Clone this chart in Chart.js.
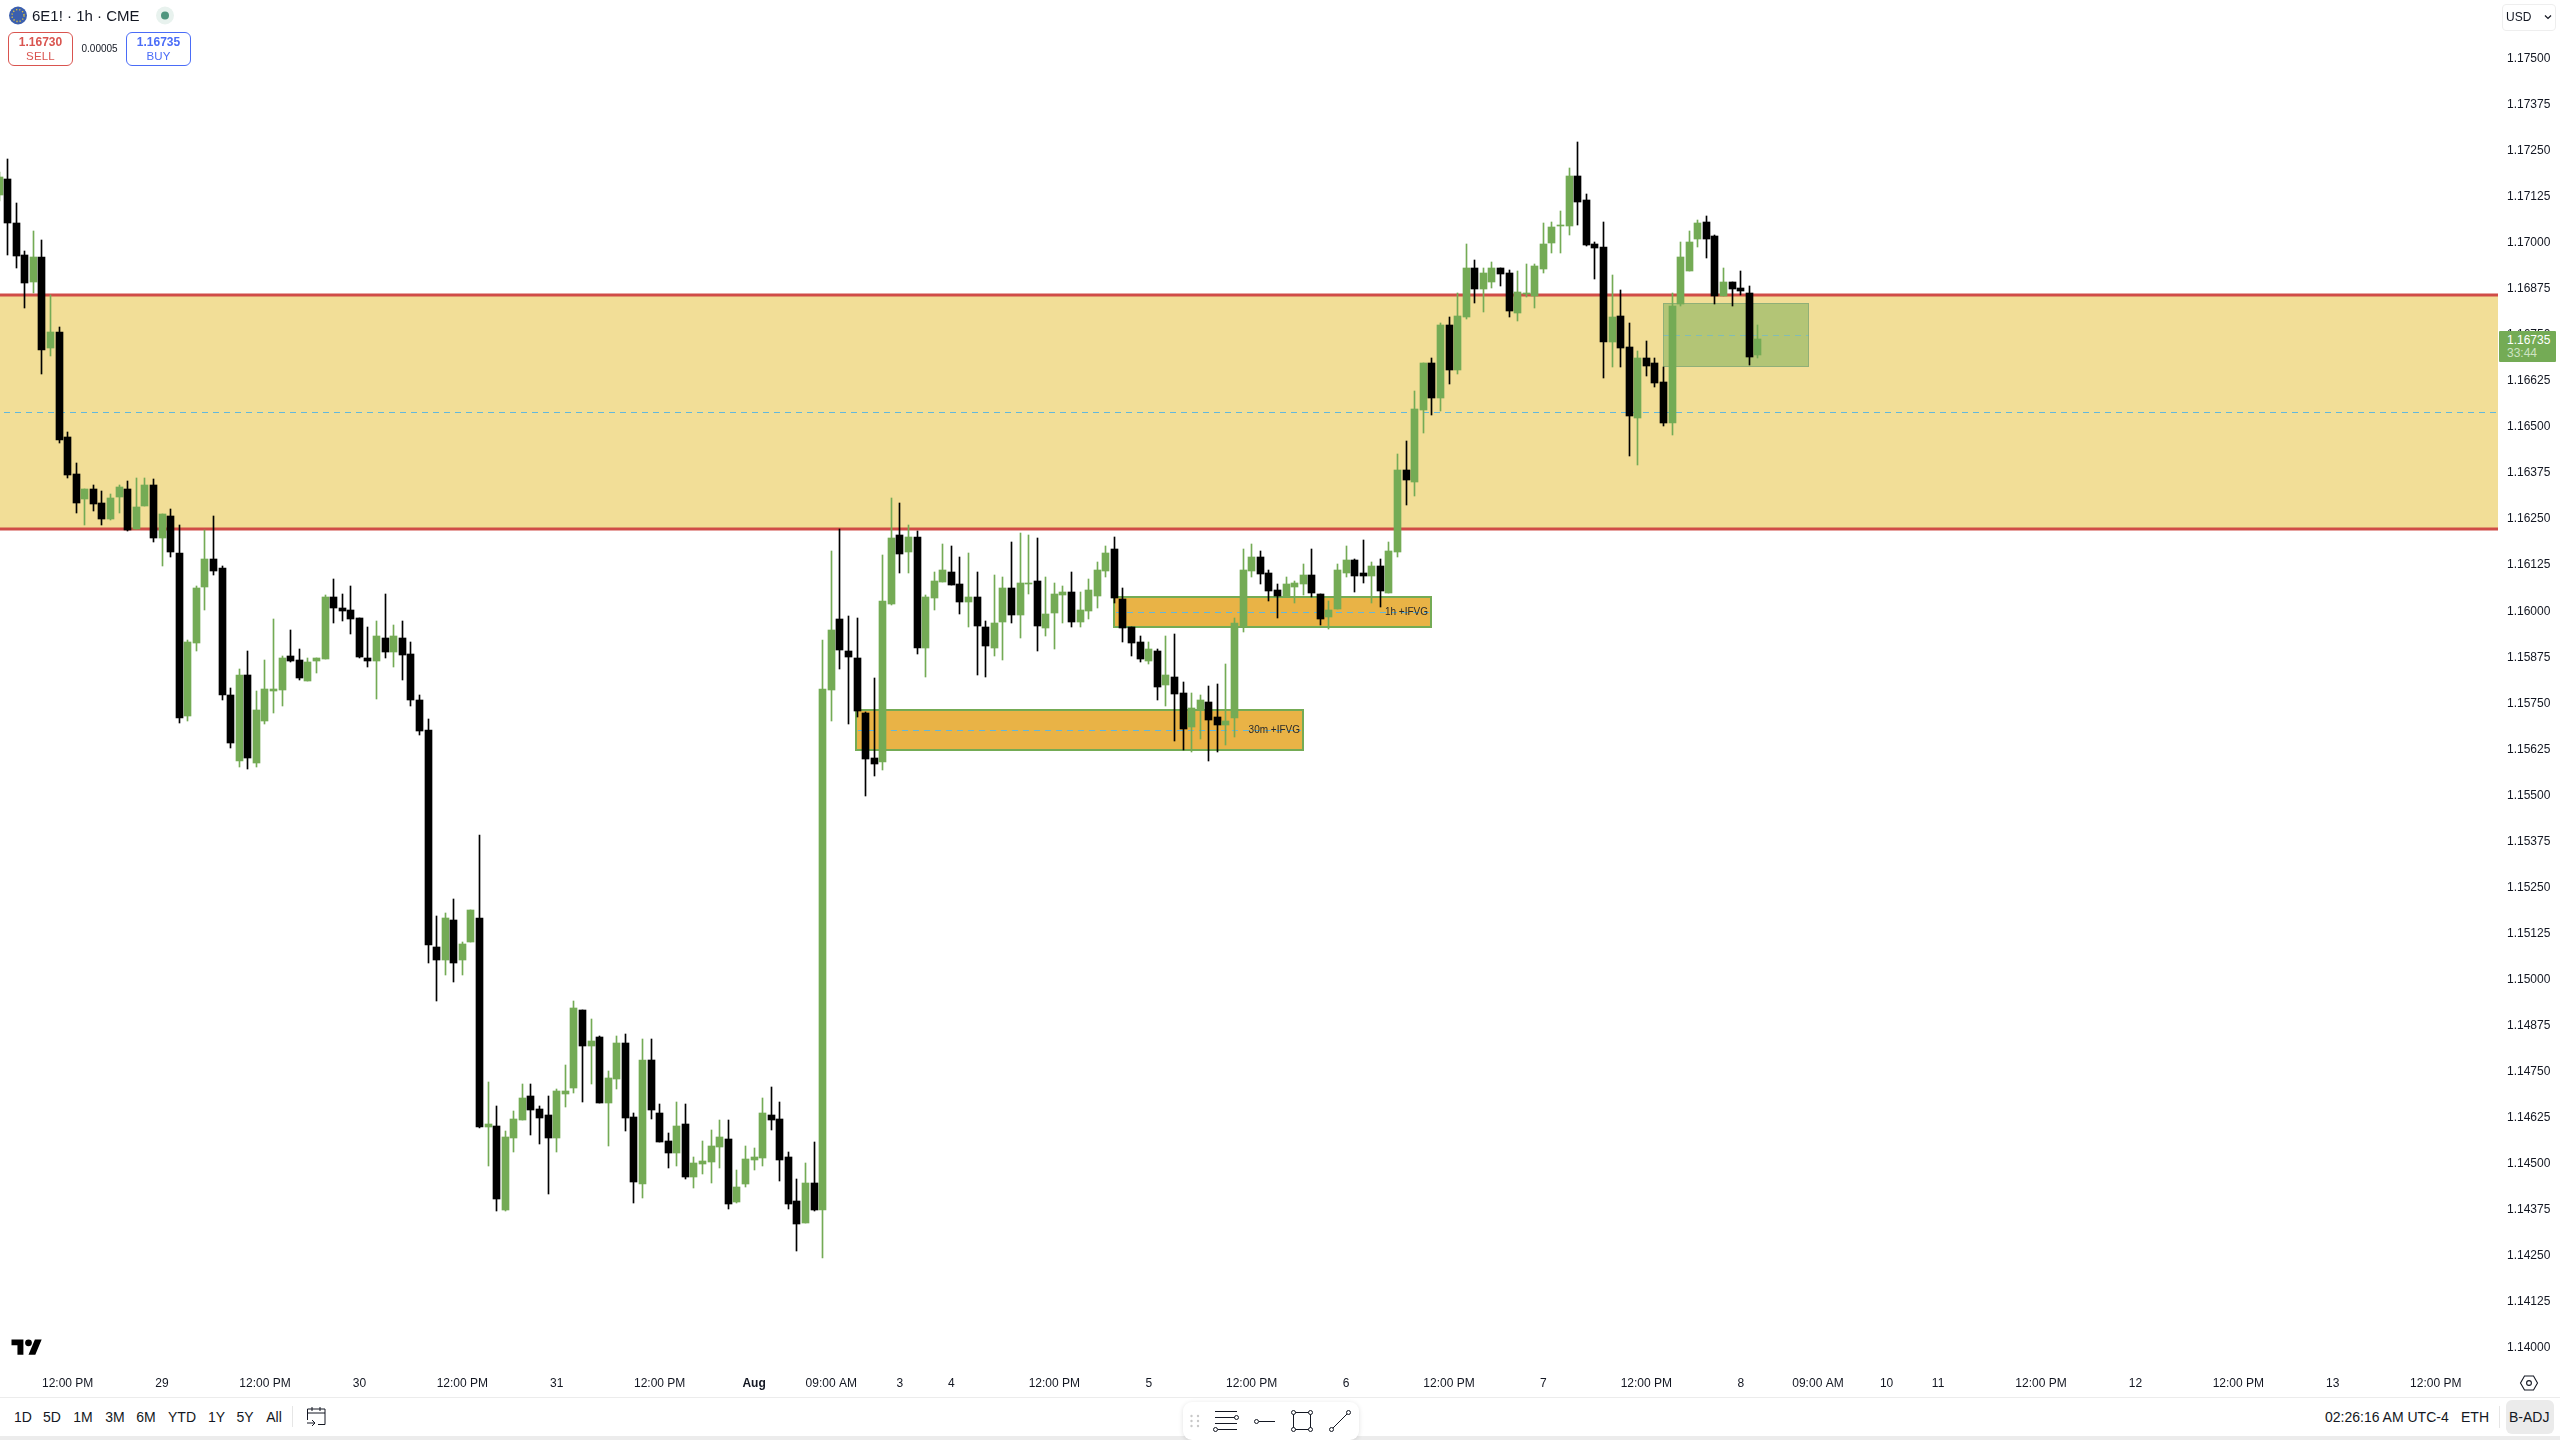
<!DOCTYPE html>
<html>
<head>
<meta charset="utf-8">
<title>6E1! 1h</title>
<script src="https://cdn.jsdelivr.net/npm/chart.js@4"></script>
<style>
  html, body { margin: 0; padding: 0; background: #fff; }
  body { width: 2560px; height: 1440px; position: relative; overflow: hidden; font-family: "Liberation Sans", sans-serif; color: #131722; }
  #chartBox { position: absolute; left: 0; top: 0; width: 2560px; height: 1397px; }
  .abs { position: absolute; white-space: nowrap; line-height: 1; }
  .quote { position: absolute; top: 32px; width: 63px; height: 32px; border: 1px solid; border-radius: 6px; background: #fff; text-align: center; font-size: 12px; }
  .quote b { display: block; margin-top: 3px; line-height: 13px; }
  .quote span { display: block; font-size: 11.5px; line-height: 15px; letter-spacing: .2px; }
  .range { top: 1410px; font-size: 14px; transform: translateX(-50%); }
  #rightLine { position: absolute; left: 0; top: 1397px; width: 2560px; height: 1px; background: #ececec; }
  #strip { position: absolute; left: 0; top: 1436px; width: 2560px; height: 4px; background: #ececec; }
  #drawBar { position: absolute; left: 1183px; top: 1402px; width: 176px; height: 38px; background: #fff; border-radius: 9px; box-shadow: 0 1px 5px rgba(0,0,0,.12); }
  #overlay { position: absolute; left: 0; top: 0; }
</style>
</head>
<body>
<div id="chartBox"><canvas id="chart" width="2560" height="1397"></canvas></div>

<div id="rightLine"></div>
<div id="strip"></div>
<div id="drawBar"></div>

<!-- header -->
<div class="abs" style="left:32px;top:8px;font-size:15px">6E1! · 1h · CME</div>
<div class="quote" style="left:8px;border-color:#d9544f;color:#d9544f"><b>1.16730</b><span>SELL</span></div>
<div class="abs" style="left:81.5px;top:43.5px;font-size:10px">0.00005</div>
<div class="quote" style="left:126px;border-color:#4a6cf7;color:#4a6cf7"><b>1.16735</b><span>BUY</span></div>

<!-- price scale extras -->
<div class="abs" style="left:2502px;top:4px;width:52px;height:25px;border:1px solid #eee;border-radius:4px"></div>
<div class="abs" style="left:2506px;top:11px;font-size:12px">USD</div>
<div class="abs" style="left:2499px;top:331px;width:57px;height:31px;background:#74ab55;border-radius:1px"></div>
<div class="abs" style="left:2507px;top:334px;font-size:12px;color:#fff">1.16735</div>
<div class="abs" style="left:2507px;top:347px;font-size:12px;color:#cfe3c3">33:44</div>

<!-- bottom bar -->
<div class="abs range" style="left:23px">1D</div>
<div class="abs range" style="left:52px">5D</div>
<div class="abs range" style="left:83px">1M</div>
<div class="abs range" style="left:115px">3M</div>
<div class="abs range" style="left:146px">6M</div>
<div class="abs range" style="left:182px">YTD</div>
<div class="abs range" style="left:216.5px">1Y</div>
<div class="abs range" style="left:245px">5Y</div>
<div class="abs range" style="left:274px">All</div>
<div class="abs" style="left:2325px;top:1410px;font-size:14px">02:26:16 AM UTC-4</div>
<div class="abs" style="left:2461px;top:1410px;font-size:14px">ETH</div>
<div class="abs" style="left:2499px;top:1406px;width:1px;height:22px;background:#e6e6e6"></div>
<div class="abs" style="left:2506px;top:1400px;width:48px;height:34px;background:#ebebeb;border-radius:6px"></div>
<div class="abs" style="left:2509px;top:1410px;font-size:14px">B-ADJ</div>

<!-- icons -->
<svg id="overlay" width="2560" height="1440" fill="none" stroke="#131722" stroke-width="1">
  <circle cx="18" cy="15.5" r="9" fill="#3b5fae" stroke="none"/>
  <circle cx="18" cy="15.5" r="6" stroke="#e8c83a" stroke-width="1.4" stroke-dasharray="1.2 2"/>
  <circle cx="165" cy="15.5" r="9" fill="#e8f2ee" stroke="none"/>
  <circle cx="165" cy="15.5" r="4" fill="#50967f" stroke="none"/>
  <path d="M2545 15.500l3 3 3-3" stroke-width="1.2"/>
  <g transform="translate(11.5 1336) scale(.85)" fill="#000" stroke="none">
    <path d="M14 22H7V11H0V4h14v18zM28 22h-8l7.5-18h8L28 22z"/><circle cx="20" cy="8" r="4"/>
  </g>
  <path d="M2520.5 1383l4-7h9l4 7-4 7h-9z" stroke-width="1.1"/><circle cx="2529" cy="1383" r="2.4" stroke-width="1.1"/>
  <path d="M292.5 1406v21" stroke="#e6e6e6"/>
  <path d="M307.5 1420v-11h17.500v15.500h-7M307 1413h18M312 1407v4M320 1407v4M307 1423h8M312 1420l3 3-3 3"/>
  <g fill="#c8c8c8" stroke="none">
    <circle cx="1191.500" cy="1416" r="1.200"/><circle cx="1198" cy="1416" r="1.200"/>
    <circle cx="1191.500" cy="1421" r="1.200"/><circle cx="1198" cy="1421" r="1.200"/>
    <circle cx="1191.500" cy="1426" r="1.200"/><circle cx="1198" cy="1426" r="1.200"/>
  </g>
  <path d="M1215 1411.500h22M1215 1417.500h20M1215 1423.500h22M1218 1429.500h19"/>
  <circle cx="1236.500" cy="1417.500" r="2" fill="#fff"/><circle cx="1215.500" cy="1429.500" r="2" fill="#fff"/>
  <path d="M1259 1421.500h16"/><circle cx="1256.500" cy="1421.500" r="2" fill="#fff"/>
  <path d="M1293.500 1412.500h17v17h-17z"/>
  <circle cx="1293.500" cy="1412.500" r="2" fill="#fff"/><circle cx="1310.500" cy="1412.500" r="2" fill="#fff"/>
  <circle cx="1293.500" cy="1429.500" r="2" fill="#fff"/><circle cx="1310.500" cy="1429.500" r="2" fill="#fff"/>
  <path d="M1331.500 1429.500l17-17"/><circle cx="1331.500" cy="1429.500" r="2" fill="#fff"/><circle cx="1348.500" cy="1412.500" r="2" fill="#fff"/>
</svg>

<script>
// bar numbers run from firstBar, one bar per hour
const firstBar = -1;

const opens = [1.17127,
1.17171,1.17051,1.16964,1.16891,1.16959,1.16712,1.16755,1.16470,1.16370,1.16302,
1.16329,1.16291,1.16248,1.16307,1.16329,1.16221,1.16283,1.16340,1.16196,1.16256,
1.16155,1.15713,1.15912,1.16063,1.16140,1.16115,1.15770,1.15590,1.15825,1.15585,
1.15700,1.15780,1.15783,1.15877,1.15866,1.15809,1.15862,1.15868,1.16037,1.16007,
1.16001,1.15980,1.15871,1.15862,1.15925,1.15887,1.15925,1.15881,1.15757,1.15675,
1.15086,1.15049,1.15160,1.15049,1.15099,1.15165,1.14597,1.14600,1.14372,1.14567,
1.14616,1.14681,1.14646,1.14630,1.14567,1.14687,1.14703,1.14915,1.14817,1.14842,
1.14662,1.14727,1.14825,1.14624,1.14442,1.14779,1.14635,1.14559,1.14527,1.14605,
1.14461,1.14497,1.14502,1.14543,1.14565,1.14394,1.14442,1.14508,1.14513,1.14630,
1.14619,1.14516,1.14396,1.14337,1.14445,1.14372,1.15783,1.15977,1.15889,1.15870,
1.15721,1.15599,1.15588,1.16017,1.16204,1.16158,1.16199,1.15897,1.16033,1.16077,
1.16104,1.16071,1.16022,1.16036,1.15954,1.15897,1.15968,1.16060,1.15987,1.16071,
1.16079,1.15952,1.15992,1.16041,1.16049,1.15968,1.15998,1.16039,1.16106,1.16166,
1.16030,1.15954,1.15914,1.15862,1.15889,1.15797,1.15819,1.15775,1.15683,1.15729,
1.15751,1.15710,1.15688,1.15707,1.15954,1.16106,1.16144,1.16101,1.16055,1.16037,
1.16063,1.16071,1.16096,1.16044,1.15981,1.16003,1.16101,1.16136,1.16101,1.16093,
1.16120,1.16047,1.16158,1.16381,1.16348,1.16544,1.16671,1.16576,1.16774,1.16652,
1.16796,1.16929,1.16872,1.16891,1.16929,1.16915,1.16807,1.16858,1.16853,1.16926,
1.16997,1.17043,1.17043,1.17179,1.17114,1.16994,1.16986,1.16728,1.16799,1.16715,
1.16522,1.16685,1.16671,1.16620,1.16508,1.16831,1.16921,1.17008,1.17054,1.17016,
1.16853,1.16891,1.16875,1.16861,1.16693];

const closes = [1.17176,
1.17051,1.16962,1.16888,1.16959,1.16707,1.16755,1.16462,1.16367,1.16291,1.16329,
1.16288,1.16248,1.16305,1.16335,1.16218,1.16280,1.16340,1.16196,1.16261,1.16159,
1.15706,1.15914,1.16061,1.16140,1.16107,1.15769,1.15640,1.15825,1.15600,1.15730,
1.15787,1.15787,1.15870,1.15862,1.15816,1.15860,1.15870,1.16037,1.16005,1.15999,
1.15976,1.15873,1.15862,1.15930,1.15887,1.15930,1.15879,1.15757,1.15673,1.15090,
1.15049,1.15165,1.15042,1.15095,1.15186,1.14597,1.14605,1.14402,1.14570,1.14619,
1.14676,1.14643,1.14622,1.14567,1.14695,1.14695,1.14920,1.14817,1.14831,1.14662,
1.14730,1.14825,1.14622,1.14448,1.14779,1.14643,1.14556,1.14527,1.14600,1.14461,
1.14499,1.14505,1.14546,1.14570,1.14388,1.14434,1.14510,1.14516,1.14635,1.14616,
1.14508,1.14388,1.14334,1.14445,1.14372,1.15786,1.15946,1.15892,1.15873,1.15726,
1.15596,1.15582,1.16025,1.16196,1.16153,1.16199,1.15897,1.16036,1.16079,1.16109,
1.16068,1.16022,1.16036,1.15957,1.15903,1.15965,1.16060,1.15987,1.16074,1.16074,
1.15957,1.15990,1.16044,1.16049,1.15968,1.16000,1.16055,1.16109,1.16155,1.16033,
1.15952,1.15911,1.15868,1.15895,1.15791,1.15824,1.15772,1.15677,1.15734,1.15756,
1.15702,1.15688,1.15699,1.15965,1.16109,1.16144,1.16098,1.16052,1.16038,1.16071,
1.16074,1.16096,1.16047,1.15976,1.16000,1.16109,1.16136,1.16093,1.16093,1.16120,
1.16052,1.16161,1.16381,1.16354,1.16546,1.16671,1.16576,1.16774,1.16652,1.16799,
1.16929,1.16872,1.16915,1.16929,1.16913,1.16812,1.16864,1.16861,1.16934,1.16994,
1.17040,1.17046,1.17179,1.17108,1.16991,1.16983,1.16728,1.16796,1.16712,1.16527,
1.16685,1.16663,1.16617,1.16508,1.16826,1.16959,1.17000,1.17051,1.17008,1.16853,
1.16891,1.16872,1.16867,1.16687,1.16735];

const highs = [1.17190,
1.17225,1.17106,1.16975,1.17030,1.17005,1.16856,1.16769,1.16484,1.16400,1.16329,
1.16340,1.16324,1.16316,1.16340,1.16351,1.16359,1.16359,1.16356,1.16261,1.16275,
1.16232,1.15920,1.16066,1.16217,1.16256,1.16120,1.15789,1.15840,1.15890,1.15781,
1.15866,1.15976,1.15875,1.15947,1.15895,1.15870,1.15870,1.16041,1.16084,1.16044,
1.16066,1.15980,1.15955,1.15971,1.16044,1.15960,1.15971,1.15914,1.15770,1.15705,
1.15169,1.15179,1.15215,1.15099,1.15186,1.15390,1.14718,1.14653,1.14586,1.14641,
1.14714,1.14714,1.14653,1.14680,1.14700,1.14765,1.14939,1.14915,1.14890,1.14844,
1.14749,1.14844,1.14850,1.14635,1.14836,1.14836,1.14660,1.14581,1.14665,1.14660,
1.14516,1.14559,1.14589,1.14616,1.14616,1.14480,1.14546,1.14540,1.14676,1.14706,
1.14665,1.14529,1.14456,1.14499,1.14556,1.15919,1.16161,1.16220,1.15984,1.15979,
1.15724,1.15816,1.16150,1.16305,1.16291,1.16231,1.16215,1.16041,1.16104,1.16180,
1.16174,1.16144,1.16155,1.16104,1.15971,1.16096,1.16090,1.16185,1.16210,1.16204,
1.16196,1.16090,1.16074,1.16066,1.16104,1.16049,1.16085,1.16131,1.16174,1.16199,
1.16060,1.15954,1.15930,1.15914,1.15895,1.15930,1.15935,1.15805,1.15775,1.15770,
1.15794,1.15800,1.15854,1.15979,1.16166,1.16180,1.16161,1.16109,1.16071,1.16090,
1.16079,1.16125,1.16166,1.16044,1.16025,1.16125,1.16174,1.16139,1.16191,1.16131,
1.16139,1.16185,1.16424,1.16459,1.16595,1.16671,1.16685,1.16780,1.16796,1.16861,
1.16994,1.16951,1.16929,1.16945,1.16929,1.16924,1.16921,1.16940,1.16940,1.17051,
1.17054,1.17084,1.17200,1.17271,1.17130,1.17000,1.17054,1.16910,1.16869,1.16780,
1.16704,1.16731,1.16685,1.16660,1.16861,1.17000,1.17030,1.17059,1.17070,1.17019,
1.16929,1.16891,1.16921,1.16880,1.16774];

const lows = [1.17110,
1.16964,1.16929,1.16821,1.16861,1.16641,1.16690,1.16454,1.16359,1.16264,1.16231,
1.16269,1.16231,1.16245,1.16264,1.16215,1.16220,1.16283,1.16185,1.16120,1.16144,
1.15695,1.15700,1.15890,1.16001,1.16096,1.15757,1.15625,1.15575,1.15570,1.15575,
1.15690,1.15720,1.15740,1.15860,1.15811,1.15809,1.15829,1.15868,1.15965,1.15972,
1.15936,1.15871,1.15846,1.15759,1.15871,1.15846,1.15811,1.15740,1.15660,1.15041,
1.14938,1.15010,1.14991,1.15010,1.15099,1.14595,1.14492,1.14370,1.14369,1.14529,
1.14616,1.14575,1.14551,1.14415,1.14529,1.14651,1.14689,1.14665,1.14714,1.14662,
1.14546,1.14700,1.14586,1.14391,1.14404,1.14619,1.14556,1.14486,1.14491,1.14456,
1.14432,1.14470,1.14445,1.14486,1.14375,1.14391,1.14434,1.14480,1.14491,1.14589,
1.14451,1.14375,1.14260,1.14337,1.14369,1.14241,1.15700,1.15841,1.15691,1.15710,
1.15496,1.15550,1.15566,1.16014,1.16101,1.16101,1.15881,1.15819,1.16000,1.16077,
1.16068,1.15990,1.15954,1.15824,1.15819,1.15876,1.15865,1.15965,1.15925,1.16044,
1.15889,1.15930,1.15895,1.15965,1.15954,1.15954,1.15976,1.16006,1.16090,1.16020,
1.15914,1.15876,1.15859,1.15854,1.15756,1.15740,1.15645,1.15620,1.15615,1.15650,
1.15591,1.15615,1.15634,1.15656,1.15941,1.16090,1.16071,1.16025,1.15979,1.16037,
1.16020,1.16041,1.16036,1.15960,1.15949,1.16003,1.16090,1.16049,1.16074,1.16020,
1.16009,1.16047,1.16144,1.16286,1.16310,1.16481,1.16530,1.16541,1.16614,1.16641,
1.16791,1.16834,1.16810,1.16875,1.16880,1.16796,1.16785,1.16850,1.16820,1.16915,
1.16970,1.16970,1.17019,1.17046,1.16989,1.16899,1.16630,1.16660,1.16660,1.16419,
1.16394,1.16636,1.16606,1.16500,1.16476,1.16826,1.16921,1.16986,1.16956,1.16831,
1.16853,1.16826,1.16856,1.16666,1.16685];

const priceTicks = [1.175,1.17375,1.1725,1.17125,1.17,1.16875,1.1675,1.16625,1.165,1.16375,1.1625,1.16125,1.16,
  1.15875,1.1575,1.15625,1.155,1.15375,1.1525,1.15125,1.15,1.14875,1.1475,1.14625,1.145,1.14375,1.1425,1.14125,1.14];

const timeTickBars = [7,18,30,41,53,64,76,87,96,104,110,122,133,145,156,168,179,191,202,211,219,225,237,248,260,271,283];
const timeTickLabels = ['12:00 PM','29','12:00 PM','30','12:00 PM','31','12:00 PM','Aug','09:00 AM','3','4','12:00 PM','5',
  '12:00 PM','6','12:00 PM','7','12:00 PM','8','09:00 AM','10','11','12:00 PM','12','12:00 PM','13','12:00 PM'];

// the marked ranges on the chart
const bandTop = 1.16855;
const bandMid = 1.16537;
const bandBottom = 1.16220;

const boxLabels = ['30m +IFVG', '1h +IFVG', ''];
const boxFrom = [98.85, 128.95, 192.97];
const boxTo = [151.0, 165.9, 210.0];
const boxTops = [1.15729, 1.16036, 1.16834];
const boxMids = [1.15674, 1.15994, 1.16747];
const boxBottoms = [1.15620, 1.15955, 1.16660];

const green = '#74ab55';
const black = '#000000';

const bars = opens.map((o, i) => firstBar + i);
const barColors = opens.map((o, i) => closes[i] >= o ? green : black);

function dashed(ctx, x1, x2, y, color) {
    ctx.save();
    ctx.strokeStyle = color;
    ctx.lineWidth = 1;
    ctx.setLineDash([6, 5]);
    ctx.beginPath();
    ctx.moveTo(x1, Math.round(y) + 0.5);
    ctx.lineTo(x2, Math.round(y) + 0.5);
    ctx.stroke();
    ctx.restore();
}

// bands and boxes go under the candles
const zonePlugin = {
    id: 'zones',
    beforeDatasetsDraw(chart) {
        const ctx = chart.ctx;
        const xs = chart.scales.x;
        const ys = chart.scales.y;
        const area = chart.chartArea;

        ctx.save();
        const top = Math.round(ys.getPixelForValue(bandTop));
        const bottom = Math.round(ys.getPixelForValue(bandBottom));
        ctx.fillStyle = '#f2de97';
        ctx.fillRect(area.left, top, area.right - area.left, bottom - top);
        dashed(ctx, area.left + 4, area.right, ys.getPixelForValue(bandMid), '#62b8dc');
        ctx.fillStyle = '#d04c47';
        ctx.fillRect(area.left, top - 1.5, area.right - area.left, 3);
        ctx.fillRect(area.left, bottom - 1.5, area.right - area.left, 3);

        boxLabels.forEach((label, i) => {
            const x1 = Math.round(xs.getPixelForValue(boxFrom[i]));
            const x2 = Math.round(xs.getPixelForValue(boxTo[i]));
            const y1 = Math.round(ys.getPixelForValue(boxTops[i]));
            const y2 = Math.round(ys.getPixelForValue(boxBottoms[i]));
            const mid = ys.getPixelForValue(boxMids[i]);
            if (label) {
                ctx.fillStyle = '#e9b346';
                ctx.fillRect(x1, y1, x2 - x1, y2 - y1);
                dashed(ctx, x1 + 2, x2 - 2, mid, '#62b8dc');
                ctx.strokeStyle = green;
                ctx.lineWidth = 2;
                ctx.strokeRect(x1, y1, x2 - x1, y2 - y1);
                ctx.fillStyle = '#2a2a2a';
                ctx.font = '10px "Liberation Sans"';
                ctx.textAlign = 'right';
                ctx.textBaseline = 'middle';
                ctx.fillText(label, x2 - 3, mid);
            } else {
                ctx.fillStyle = 'rgba(116,171,85,0.5)';
                ctx.fillRect(x1, y1, x2 - x1, y2 - y1);
                dashed(ctx, x1, x2, mid, 'rgba(98,184,220,0.6)');
                ctx.strokeStyle = 'rgba(130,165,120,0.7)';
                ctx.lineWidth = 1;
                ctx.strokeRect(x1 + 0.5, y1 + 0.5, x2 - x1 - 1, y2 - y1 - 1);
            }
        });
        ctx.restore();
    }
};

// keep the candles on whole pixels so they stay crisp
const snapPlugin = {
    id: 'snap',
    afterDatasetsUpdate(chart) {
        chart.getSortedVisibleDatasetMetas().forEach(meta => {
            meta.data.forEach(el => {
                el.x = Math.floor(el.x) + 0.5;
                el.y = Math.round(el.y);
                el.base = Math.round(el.base);
                if (el.y === el.base) el.base = el.y + 1;
            });
        });
    }
};

new Chart(document.getElementById('chart'), {
    type: 'bar',
    data: {
        datasets: [
            {
                label: 'wicks',
                data: bars.map((b, i) => ({ x: b, y: [lows[i], highs[i]] })),
                backgroundColor: barColors,
                barThickness: 1,
                grouped: false,
                order: 2
            },
            {
                label: 'bodies',
                data: bars.map((b, i) => ({ x: b, y: [opens[i], closes[i]] })),
                backgroundColor: barColors,
                barThickness: 7,
                grouped: false,
                order: 1
            }
        ]
    },
    options: {
        responsive: false,
        animation: false,
        events: [],
        layout: { padding: 0 },
        plugins: { legend: { display: false }, tooltip: { enabled: false } },
        scales: {
            x: {
                type: 'linear',
                offset: false,
                min: -0.886,
                max: 290.26,
                grid: { display: false, drawTicks: false },
                border: { display: false },
                afterBuildTicks(scale) { scale.ticks = timeTickBars.map(v => ({ value: v })); },
                afterFit(scale) { scale.height = 32; scale.paddingLeft = 0; scale.paddingRight = 0; },
                ticks: {
                    autoSkip: false,
                    maxRotation: 0,
                    padding: 11,
                    color: '#131722',
                    font: c => ({ family: '"Liberation Sans"', size: 12, weight: c.tick && c.tick.label === 'Aug' ? 'bold' : 'normal' }),
                    callback: (v, i) => timeTickLabels[i]
                }
            },
            y: {
                type: 'linear',
                position: 'right',
                min: 1.139507,
                max: 1.176567,
                grid: { display: false, drawTicks: false },
                border: { display: false },
                afterBuildTicks(scale) { scale.ticks = priceTicks.map(v => ({ value: v })); },
                afterFit(scale) { scale.width = 62; scale.paddingTop = 0; scale.paddingBottom = 0; },
                ticks: {
                    autoSkip: false,
                    padding: 9,
                    labelOffset: 1,
                    color: '#131722',
                    font: { family: '"Liberation Sans"', size: 12 },
                    callback: v => v.toFixed(5)
                }
            }
        }
    },
    plugins: [zonePlugin, snapPlugin]
});
</script>
</body>
</html>
